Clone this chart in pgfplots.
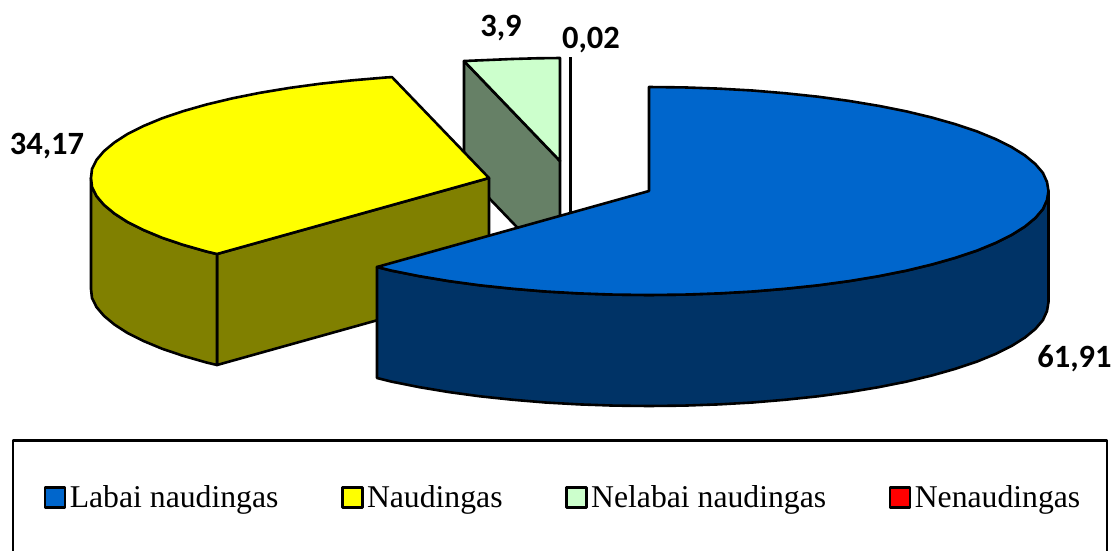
\documentclass[border=0pt]{standalone}
\usepackage{fontspec}
\setmainfont{Liberation Serif}
\newfontfamily\lblfont{Carlito}[BoldFont={Carlito Bold}]
\usepackage{pgfplots}
\pgfplotsset{compat=1.18}
\definecolor{cblue}{HTML}{0066CC}
\definecolor{cbluew}{HTML}{003366}
\definecolor{cyel}{HTML}{FFFF00}
\definecolor{cyelw}{HTML}{808000}
\definecolor{cgrn}{HTML}{CCFFCC}
\definecolor{cgrnw}{HTML}{668066}
\begin{document}
\begin{tikzpicture}
\useasboundingbox (0,0) rectangle (1114pt,550pt);
\begin{axis}[
  at={(0,0)},anchor=south west,
  width=1114pt,height=550pt,scale only axis,
  xmin=0,xmax=1114,ymin=0,ymax=550,y dir=reverse,
  hide axis,
  legend columns=4,
  legend cell align=left,
  legend image code/.code={\draw[#1,line width=2.6pt,draw=black] (0pt,-10pt) rectangle (20pt,10pt);},
  legend style={at={(axis cs:43.5,497.5)},anchor=west,draw=none,fill=none,inner sep=0pt,
    font=\fontsize{31.7}{36}\selectfont,
    /tikz/every even column/.append style={column sep=59pt},
    nodes={inner xsep=3.5pt,inner ysep=0pt}},
  every axis plot/.append style={line width=2.6pt,draw=black,line join=round},
]
% legend
\addlegendimage{fill=cblue}\addlegendentry{Labai naudingas}
\addlegendimage{fill=cyel}\addlegendentry{Naudingas}
\addlegendimage{fill=cgrn}\addlegendentry{Nelabai naudingas}
\addlegendimage{fill=red}\addlegendentry{Nenaudingas}
% legend frame, open at the picture's lower edge
\addplot[forget plot,draw=black] coordinates {(13,553) (13,440.5) (1107,440.5) (1107,553)};
% Nelabai naudingas (3,9): side, top
\addplot[forget plot,fill=cgrnw] coordinates {(464,61) (560,161) (560,272) (464,172)} --cycle;
\addplot[forget plot,fill=cgrn] coordinates {(560,161) (464,61) (488,60) (512,59) (536,58.3) (560,58)} --cycle;
% Nenaudingas (0,02): a sliver
\addplot[forget plot,line width=3pt] coordinates {(570,57) (570,270)};
% Naudingas (34,17): walls, top
\addplot[forget plot,fill=cyelw] coordinates {(489,178) (217,254) (217,365) (489,289)} --cycle;
\addplot[forget plot,fill=cyelw] coordinates {(217,254) (206.5,251.5) (183,244.8) (162,237.7) (143.5,230) (127.5,222) (114.5,213.6) (104,204.9) (96.5,196.1) (92,187) (91,178) (91,289) (92,298) (96.5,307.1) (104,315.9) (114.5,324.6) (127.5,333) (143.5,341) (162,348.7) (183,355.8) (206.5,362.5) (217,365)} --cycle;
\addplot[forget plot,fill=cyel] coordinates {(489,178) (217,254) (206.5,251.5) (183,244.8) (162,237.7) (143.5,230) (127.5,222) (114.5,213.6) (104,204.9) (96.5,196.1) (92,187) (91,178) (92,169) (96.5,159.9) (104,151.1) (114.5,142.4) (127.5,134) (143.5,126) (162,118.3) (183,111.2) (206.5,104.5) (232.5,98.3) (260,92.8) (289.5,87.9) (320.5,83.7) (352.5,80.3) (385.5,77.5) (392,77.1)} --cycle;
% Labai naudingas (61,91): wall, top
\addplot[forget plot,fill=cbluew] coordinates {(1048.5,191) (1047,200) (1042.9,209.1) (1035.4,217.9) (1024.9,226.6) (1011.5,235) (995.4,243) (976.7,250.7) (955.4,257.8) (931.8,264.5) (906.1,270.7) (878.4,276.2) (849,281.1) (818,285.3) (785.8,288.7) (752.5,291.5) (718.5,293.4) (683.9,294.6) (649,295) (614.1,294.6) (579.5,293.4) (545.5,291.5) (512.2,288.7) (480,285.3) (449,281.1) (419.6,276.2) (391.9,270.7) (377,267)
 (377,378) (391.9,381.7) (419.6,387.2) (449,392.1) (480,396.3) (512.2,399.7) (545.5,402.5) (579.5,404.4) (614.1,405.6) (649,406) (683.9,405.6) (718.5,404.4) (752.5,402.5) (785.8,399.7) (818,396.3) (849,392.1) (878.4,387.2) (906.1,381.7) (931.8,375.5) (955.4,368.8) (976.7,361.7) (995.4,354) (1011.5,346) (1024.9,337.6) (1035.4,328.9) (1042.9,320.1) (1047,311) (1048.5,302)} --cycle;
\addplot[forget plot,fill=cblue] coordinates {(649,191) (649,87) (683.9,87.4) (718.5,88.6) (752.5,90.5) (785.8,93.3) (818,96.7) (849,100.9) (878.4,105.8) (906.1,111.3) (931.8,117.5) (955.4,124.2) (976.7,131.3) (995.4,139) (1011.5,147) (1024.9,155.4) (1035.4,164.1) (1042.9,172.9) (1047,182) (1048.5,191) (1047,200) (1042.9,209.1) (1035.4,217.9) (1024.9,226.6) (1011.5,235) (995.4,243) (976.7,250.7) (955.4,257.8) (931.8,264.5) (906.1,270.7) (878.4,276.2) (849,281.1) (818,285.3) (785.8,288.7) (752.5,291.5) (718.5,293.4) (683.9,294.6) (649,295) (614.1,294.6) (579.5,293.4) (545.5,291.5) (512.2,288.7) (480,285.3) (449,281.1) (419.6,276.2) (391.9,270.7) (377,267)} --cycle;
% data labels
\begin{scope}[every node/.style={font=\lblfont\bfseries\fontsize{32.5}{36}\selectfont,inner sep=0pt,anchor=center}]
\node at (axis cs:1074.5,359) {61,91};
\node at (axis cs:47,146) {34,17};
\node at (axis cs:501,28) {3,9};
\node at (axis cs:591,40) {0,02};
\end{scope}
\end{axis}
\end{tikzpicture}
\end{document}
